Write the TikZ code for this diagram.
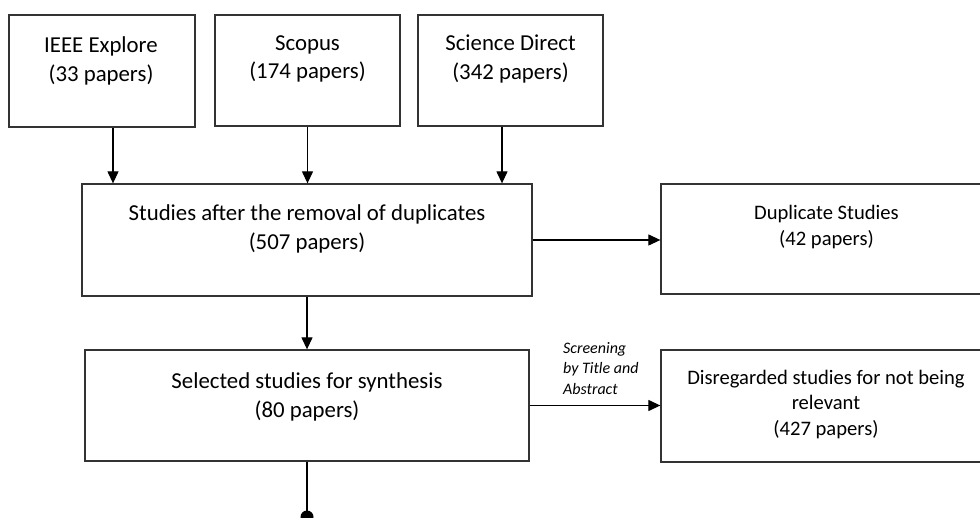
\documentclass[tikz,border=0pt]{standalone}
\usepackage{fontspec}
\setmainfont{Carlito}
\usetikzlibrary{arrows.meta}
\begin{document}
\begin{tikzpicture}[x=1pt,y=-1pt,
  box/.style={draw=black!80, line width=1.3pt, rectangle, inner sep=0pt},
  txt/.style={align=center, font=\fontsize{22.8}{28.5}\selectfont, inner sep=0pt},
  txtsmall/.style={align=center, font=\fontsize{20.6}{26.5}\selectfont, inner sep=0pt},
  lbl/.style={align=left, font=\fontsize{16}{20.5}\selectfont\itshape, inner sep=0pt, anchor=west},
  conn/.style={line width=1.2pt, draw=black},
  arr/.style={conn, -{Triangle[length=12pt,width=11pt]}},
]
\useasboundingbox (0,0) rectangle (980,518);
\clip (0,0) rectangle (980,518);

% boxes
\node[box, minimum width=186pt, minimum height=112pt] (ieee) at (102,71) {};
\node[box, minimum width=185pt, minimum height=111pt] (scopus) at (307.5,70.5) {};
\node[box, minimum width=185pt, minimum height=111pt] (sd) at (510.5,70.5) {};
\node[box, minimum width=450pt, minimum height=112pt] (studies) at (307,240) {};
\node[box, minimum width=332pt, minimum height=110pt] (dup) at (827,239) {};
\node[box, minimum width=444pt, minimum height=111pt] (sel) at (307,405.5) {};
\node[box, minimum width=332pt, minimum height=112pt] (dis) at (827,406) {};

% texts
\node[txt] (tieee) at (101,61) {IEEE Explore\\(33 papers)};
\node[txt] (tscopus) at (307.5,59) {Scopus\\(174 papers)};
\node[txt] (tsd) at (510.5,59) {Science Direct\\(342 papers)};
\node[txt] (tstudies) at (307,229) {Studies after the removal of duplicates\\(507 papers)};
\node[txtsmall] (tdup) at (826.5,227) {Duplicate Studies\\(42 papers)};
\node[txt] (tsel) at (307,397) {Selected studies for synthesis\\(80 papers)};
\node[txtsmall, font=\fontsize{20.6}{25.5}\selectfont] (tdis) at (826,404.5) {Disregarded studies for not being\\relevant\\(427 papers)};
\node[lbl] (screen) at (563,368.5) {Screening\\by Title and\\Abstract};

% connectors
\draw[arr] ([xshift=11pt]ieee.south) -- ([xshift=11pt]ieee.south |- studies.north);
\draw[arr] (scopus.south) -- (scopus.south |- studies.north);
\draw[arr] ([xshift=-8.5pt]sd.south) -- ([xshift=-8.5pt]sd.south |- studies.north);
\draw[arr] (studies.east) -- (studies.east -| dup.west);
\draw[arr] (studies.south) -- (sel.north);
\draw[arr] (sel.east) -- (sel.east -| dis.west);
\coordinate (endpt) at (307,517);
\draw[conn] (sel.south) -- (endpt);
\fill (endpt) circle (6.5pt);
\end{tikzpicture}
\end{document}
